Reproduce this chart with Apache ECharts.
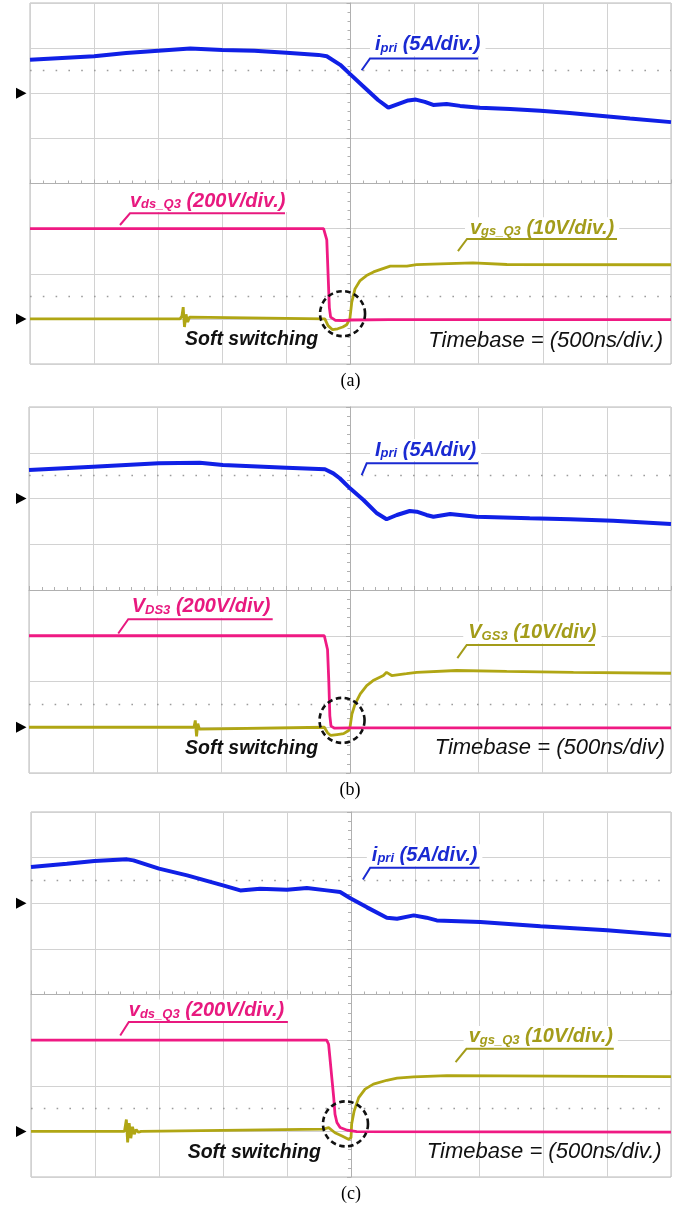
<!DOCTYPE html>
<html>
<head>
<meta charset="utf-8">
<script src="https://cdn.jsdelivr.net/npm/echarts@6/dist/echarts.min.js"></script>
<style>
  html, body { margin: 0; padding: 0; background: #ffffff; }
  #chart { width: 687px; height: 1206px; }
</style>
</head>
<body>
<div id="chart"></div>
<script>
// ---- Waveform samples: time in ns relative to screen centre, 500 ns/div ----

// (a) primary current i_pri [A]
const tIpriA = [-2500,-2250,-2000,-1750,-1500,-1250,-1000,-750,-500,-250,-185,-80,-5,105,215,295,370,450,510,580,645,750,855,1010,1245,1480,1710,1945,2180,2500];
const ipriA  = [3.7,3.9,4.1,4.45,4.7,4.95,4.8,4.7,4.5,4.25,4.1,3.15,2.15,0.7,-0.75,-1.6,-1.2,-0.8,-0.7,-0.95,-1.3,-1.2,-1.4,-1.6,-1.75,-1.95,-2.2,-2.5,-2.8,-3.2];
// (a) drain-source voltage v_ds_Q3 [V]
const tVdsA = [-2500,-210,-195,-185,-175,-165,-155,-120,-60,0,300,2500];
const vdsA  = [400,400,392,350,200,50,8,-6,-8,-5,-3,-3];
// (a) gate-source voltage v_gs_Q3 [V]
const tVgsA = [-2500,-1330,-1315,-1305,-1295,-1283,-1270,-1255,-1240,-200,-175,-140,-100,-60,-30,-5,10,35,75,125,180,230,310,440,515,700,955,1220,2500];
const vgsA  = [0,0,0.6,2.6,-1.8,1.0,-0.7,0.4,0,0,-1.5,-2.4,-2.2,-1.8,-1.3,0,3.7,6.65,8.5,9.6,10.4,10.9,11.7,11.7,12.0,12.2,12.4,12.05,12.0];

// (b)
const tIpriB = [-2500,-2000,-1490,-1170,-990,-495,-195,-130,-80,0,105,210,285,365,465,520,595,650,780,985,1400,1715,2050,2500];
const ipriB  = [3.11,3.48,3.85,3.91,3.66,3.37,3.19,2.75,2.21,1.11,-0.16,-1.62,-2.27,-1.8,-1.37,-1.44,-1.8,-1.99,-1.69,-1.99,-2.16,-2.27,-2.43,-2.79];
const tVdsB = [-2500,-200,-185,-175,-165,-157,-148,-120,0,2500];
const vdsB  = [400,400,392,340,200,50,5,-4,-3,-3];
const tVgsB = [-2500,-1215,-1205,-1195,-1185,-1173,-1160,-200,-175,-150,-100,-50,-10,0,15,40,80,130,180,260,285,325,440,520,830,1220,1740,2500];
const vgsB  = [0,0,1.5,-2.0,0.8,-0.4,0,0,-1.2,-1.8,-1.6,-1.4,-0.7,0,2.9,5.1,7.3,9.1,10.2,11.3,12.0,11.3,11.7,12.0,12.4,12.2,12.0,11.8];

// (c)
const tIpriC = [-2500,-2220,-2005,-1750,-1700,-1500,-1280,-1000,-865,-710,-500,-345,-190,-85,-5,125,280,360,490,590,670,1010,1480,2000,2500];
const ipriC  = [3.97,4.34,4.63,4.81,4.7,3.79,3.06,1.96,1.41,1.6,1.49,1.67,1.41,1.23,0.54,-0.45,-1.58,-1.69,-1.33,-1.58,-1.88,-2.06,-2.53,-2.97,-3.52];
const tVdsC = [-2500,-190,-175,-165,-150,-135,-125,-110,-85,-30,45,2500];
const vdsC  = [400,400,382,324,236,148,75,39,17,5,-1,-3];
const tVgsC = [-2500,-1770,-1755,-1745,-1733,-1720,-1707,-1693,-1678,-1660,-1640,-215,-175,-125,-70,-20,0,5,25,60,110,175,280,360,490,750,2500];
const vgsC  = [0,0,2.6,-2.4,1.8,-1.5,1.0,-0.6,0.4,-0.2,0,0.5,0.8,-0.3,-1.0,-1.7,-1.4,1.6,4.5,7.4,9.25,10.35,11.2,11.67,11.95,12.2,12.0];

// Soft-switching instant (ns) and height (div) of the highlighted region
const softT   = [-62, -62, -43];
const softDiv = [-2.885, -2.85, -2.836];

// Channel scales and ground-marker positions (in divisions from screen centre)
const A_PER_DIV = 5, VDS_PER_DIV = 200, VGS_PER_DIV = 10;
const IPRI_GND = 2, V_GND = -3;

// Caption and label texts
const captions = ['(a)', '(b)', '(c)'];
const ipriText = [['i','pri','(5A/div.)'], ['I','pri','(5A/div)'], ['i','pri','(5A/div.)']];
const vdsText  = [['v','ds_Q3','(200V/div.)'], ['V','DS3','(200V/div)'], ['v','ds_Q3','(200V/div.)']];
const vgsText  = [['v','gs_Q3','(10V/div.)'], ['V','GS3','(10V/div)'], ['v','gs_Q3','(10V/div.)']];
const timebaseText = ['Timebase = (500ns/div.)', 'Timebase = (500ns/div)', 'Timebase = (500ns/div.)'];

// ---- Layout ----
const GRIDS = [
  { left: 30, top: 3,   width: 641, height: 361 },
  { left: 29, top: 407, width: 642, height: 366 },
  { left: 31, top: 812, width: 640, height: 365 }
];
// Label anchors in (ns, div) of each screen
const LABEL_POS = [
  { ipri: [191, 3.07],  ipriLead: [[87,2.51],[152,2.77],[995,2.77]],
    vds: [-1720,-0.39], vdsLead: [[-1798,-0.92],[-1720,-0.66],[-511,-0.66]],
    vgs: [932,-0.99],   vgsLead: [[838,-1.5],[909,-1.23],[2079,-1.23]],
    soft: [-1291,-3.47], time: [2438,-3.49] },
  { ipri: [195, 3.06],  ipriLead: [[91,2.51],[130,2.77],[999,2.77]],
    vds: [-1700,-0.365], vdsLead: [[-1805,-0.95],[-1727,-0.64],[-602,-0.64]],
    vgs: [921,-0.93],   vgsLead: [[836,-1.49],[909,-1.2],[1908,-1.2]],
    soft: [-1285,-3.46], time: [2453,-3.46] },
  { ipri: [163, 3.05],  ipriLead: [[93,2.52],[150,2.78],[1003,2.78]],
    vds: [-1736,-0.35], vdsLead: [[-1803,-0.9],[-1736,-0.6],[-493,-0.6]],
    vgs: [919,-0.93],   vgsLead: [[817,-1.48],[902,-1.19],[2053,-1.19]],
    soft: [-1276,-3.46], time: [2427,-3.46] }
];

const C_BLUE = '#1020e6', C_PINK = '#ef1a83', C_OLIVE = '#b0a614';
const C_BLUE_T = '#1a2ad2', C_PINK_T = '#e8197f', C_OLIVE_T = '#a39c1a';
const C_GRID = '#d2d2d2', C_AXIS = '#b0b0b0';
const SANS = '"Liberation Sans", Arial, sans-serif';

const panels = [
  { ipri: [tIpriA, ipriA], vds: [tVdsA, vdsA], vgs: [tVgsA, vgsA] },
  { ipri: [tIpriB, ipriB], vds: [tVdsB, vdsB], vgs: [tVgsB, vgsB] },
  { ipri: [tIpriC, ipriC], vds: [tVdsC, vdsC], vgs: [tVgsC, vgsC] }
];

function toDiv(t, v, gnd, scale) {
  return t.map((x, i) => [x, gnd + v[i] / scale]);
}

const grid = [], xAxis = [], yAxis = [], series = [];
panels.forEach((p, i) => {
  grid.push(Object.assign({ show: true, borderColor: '#b8b8b8', borderWidth: 1, backgroundColor: '#fff' }, GRIDS[i]));
  xAxis.push({
    gridIndex: i, type: 'value', min: -2500, max: 2500, interval: 500,
    axisLabel: { show: false },
    axisLine: { show: true, onZero: true, lineStyle: { color: C_AXIS, width: 1 } },
    axisTick: { show: true, inside: true, length: 4, lineStyle: { color: C_AXIS } },
    minorTick: { show: true, splitNumber: 5, length: 3, lineStyle: { color: C_AXIS } },
    splitLine: { show: true, lineStyle: { color: C_GRID, width: 1 } }
  });
  yAxis.push({
    gridIndex: i, type: 'value', min: -4, max: 4, interval: 1,
    axisLabel: { show: false },
    axisLine: { show: true, onZero: true, lineStyle: { color: C_AXIS, width: 1 } },
    axisTick: { show: true, length: 4, lineStyle: { color: C_AXIS } },
    minorTick: { show: true, splitNumber: 5, length: 3, lineStyle: { color: C_AXIS } },
    splitLine: { show: true, lineStyle: { color: C_GRID, width: 1 } }
  });
  const common = { type: 'line', xAxisIndex: i, yAxisIndex: i, showSymbol: false, silent: true, animation: false };
  series.push(Object.assign({}, common, {
    name: 'vgs' + i, data: toDiv(p.vgs[0], p.vgs[1], V_GND, VGS_PER_DIV),
    lineStyle: { color: C_OLIVE, width: 2.8 }, z: 3,
    markLine: {
      silent: true, symbol: 'none', label: { show: false }, animation: false,
      lineStyle: { type: [1.6, 11.2], color: '#9c9c9c', width: 1.3 },
      data: [{ yAxis: 2.5 }, { yAxis: -2.5 }]
    }
  }));
  series.push(Object.assign({}, common, {
    name: 'vds' + i, data: toDiv(p.vds[0], p.vds[1], V_GND, VDS_PER_DIV),
    lineStyle: { color: C_PINK, width: 2.8 }, z: 4
  }));
  series.push(Object.assign({}, common, {
    name: 'ipri' + i, data: toDiv(p.ipri[0], p.ipri[1], IPRI_GND, A_PER_DIV),
    lineStyle: { color: C_BLUE, width: 4 }, z: 5
  }));
});

const chart = echarts.init(document.getElementById('chart'), null, { renderer: 'canvas' });
chart.setOption({ animation: false, backgroundColor: '#fff', grid, xAxis, yAxis, series });

// ---- Annotations placed from screen coordinates ----
function px(i, pt) { return chart.convertToPixel({ gridIndex: i }, pt); }

function richLabel(i, parts, at, color) {
  const p = px(i, at);
  const pad = 5;
  return {
    type: 'text', x: p[0] - pad, y: p[1], z: 20, silent: true,
    style: {
      text: '{m|' + parts[0] + '}{s|' + parts[1] + '}{m| ' + parts[2] + '}',
      align: 'left', verticalAlign: 'middle',
      backgroundColor: '#fff', padding: [1, pad, 1, pad],
      rich: {
        m: { fontFamily: SANS, fontSize: 20, fontWeight: 'bold', fontStyle: 'italic', fill: color, lineHeight: 20, verticalAlign: 'middle' },
        s: { fontFamily: SANS, fontSize: 13, fontWeight: 'bold', fontStyle: 'italic', fill: color, lineHeight: 13, verticalAlign: 'bottom' }
      }
    }
  };
}

function leader(i, pts, color) {
  return {
    type: 'polyline', z: 20, silent: true,
    shape: { points: pts.map(q => px(i, q)) },
    style: { stroke: color, lineWidth: 2, fill: null }
  };
}

const graphic = [];
panels.forEach((p, i) => {
  const L = LABEL_POS[i];
  graphic.push(richLabel(i, ipriText[i], L.ipri, C_BLUE_T));
  graphic.push(leader(i, L.ipriLead, C_BLUE_T));
  graphic.push(richLabel(i, vdsText[i], L.vds, C_PINK_T));
  graphic.push(leader(i, L.vdsLead, C_PINK_T));
  graphic.push(richLabel(i, vgsText[i], L.vgs, C_OLIVE_T));
  graphic.push(leader(i, L.vgsLead, C_OLIVE_T));

  // Dashed ring around the zero-voltage turn-on
  const c = px(i, [softT[i], softDiv[i]]);
  graphic.push({
    type: 'circle', z: 21, silent: true,
    shape: { cx: c[0], cy: c[1], r: 22.5 },
    style: { fill: null, stroke: '#111', lineWidth: 2.6, lineDash: [5.5, 3.5] }
  });

  const s = px(i, L.soft);
  graphic.push({
    type: 'text', x: s[0], y: s[1], z: 20, silent: true,
    style: { text: 'Soft switching', align: 'left', verticalAlign: 'middle', fill: '#111',
             font: 'italic bold 19.5px ' + SANS }
  });
  const tb = px(i, L.time);
  graphic.push({
    type: 'text', x: tb[0], y: tb[1], z: 20, silent: true,
    style: { text: timebaseText[i], align: 'right', verticalAlign: 'middle', fill: '#111',
             font: 'italic 22px ' + SANS }
  });

  // Ground reference markers at the left of the screen
  [IPRI_GND, V_GND].forEach(g => {
    const y = px(i, [-2500, g])[1];
    graphic.push({
      type: 'polygon', z: 20, silent: true,
      shape: { points: [[16, y - 5.5], [26.5, y], [16, y + 5.5]] },
      style: { fill: '#000' }
    });
  });

  // Sub-figure caption
  const gr = GRIDS[i];
  graphic.push({
    type: 'text', x: gr.left + gr.width / 2, y: gr.top + gr.height + 17, z: 20, silent: true,
    style: { text: captions[i], align: 'center', verticalAlign: 'middle', fill: '#000',
             font: '18px "Liberation Serif", "Times New Roman", serif' }
  });
});
chart.setOption({ graphic });
</script>
</body>
</html>
